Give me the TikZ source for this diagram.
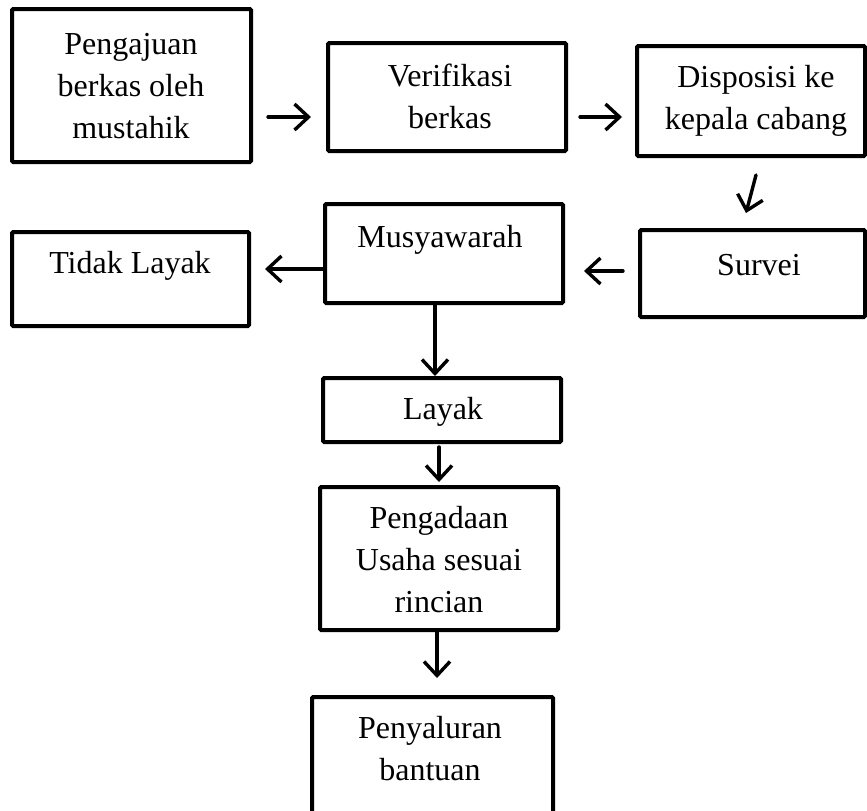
\documentclass[tikz,border=0pt]{standalone}
\usepackage{fontspec}
\setmainfont{Liberation Serif}
\usetikzlibrary{arrows.meta}
\tikzset{
  box/.style={draw, line width=2pt, inner sep=0pt, rounded corners=0.6pt},
  txt/.style={align=center, inner sep=0pt, font=\fontsize{16}{21}\selectfont},
  conn/.style={line width=1.7pt, line cap=round, -{Straight Barb[length=7pt,width=13pt,line width=1.7pt]}},
  plain/.style={line width=1.7pt}
}
\newcommand{\mybox}[5]{%
  \node[box, minimum width={(#4-#2)*0.5pt}, minimum height={(#5-#3)*0.5pt}] (#1) at ({(#2+#4)/2},{(#3+#5)/2}) {};}
\begin{document}
\begin{tikzpicture}[x=0.5pt,y=-0.5pt]
\useasboundingbox (0,0) rectangle (867,810);
\clip (0,0) rectangle (867,810);
% boxes
\mybox{b1}{12}{9}{251}{162}
\mybox{b2}{328}{43}{566}{151}
\mybox{b3}{637}{46}{865}{156}
\mybox{b4}{640}{230}{865}{317}
\mybox{b5}{325}{204}{563}{303}
\mybox{b6}{12}{232}{249}{326}
\mybox{b7}{323}{378}{561}{442}
\mybox{b8}{320}{487}{558}{630}
\mybox{b9}{312}{697}{553}{840}
% texts
\node[txt] (t1) at (131,86) {Pengajuan\\berkas oleh\\mustahik};
\node[txt] (t2) at (450,96) {Verifikasi\\berkas};
\node[txt] (t3) at (756,101) {Disposisi ke\\kepala cabang};
\node[txt] (t4) at (759,265) {Survei};
\node[txt] (t5) at (440,240) {Musyawarah};
\node[txt] (t6) at (130,266) {Tidak Layak};
\node[txt] (t7) at (443,412) {Layak};
\node[txt] (t8) at (439,560) {Pengadaan\\Usaha sesuai\\rincian};
\node[txt] (t9) at (430,749) {Penyaluran\\bantuan};
% connector end points
\coordinate (a1s) at (268,117); \coordinate (a1e) at (311,117);
\coordinate (a2s) at (580,117); \coordinate (a2e) at (622,117);
\coordinate (a3s) at (756,175); \coordinate (a3e) at (746,213);
\coordinate (a4s) at (623,271); \coordinate (a4e) at (584,271);
\coordinate (a5s) at (323,269); \coordinate (a5e) at (265,269);
\coordinate (a7s) at (439,447); \coordinate (a7e) at (439,482);
\coordinate (a8s) at (437,630); \coordinate (a8e) at (437,678);
% connectors
\draw[conn] (a1s) -- (a1e);
\draw[conn] (a2s) -- (a2e);
\draw[conn] (a3s) -- (a3e);
\draw[conn] (a4s) -- (a4e);
\draw[conn] (a5s) -- (a5e);
\draw[conn] (b5.south -| 435,0) -- (b7.north -| 435,0);
\draw[conn] (a7s) -- (a7e);
\draw[conn] (a8s) -- (a8e);
\end{tikzpicture}
\end{document}
